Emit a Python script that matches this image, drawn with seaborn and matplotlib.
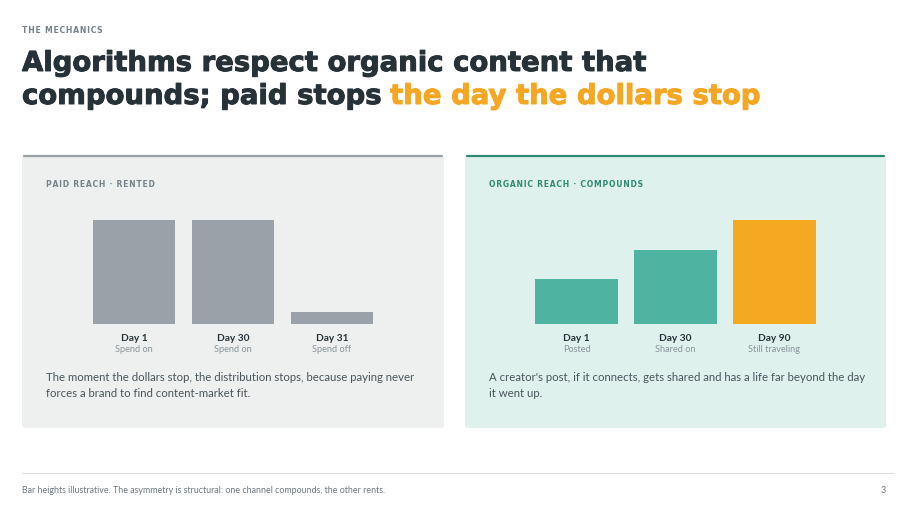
import matplotlib
matplotlib.use("Agg")
import matplotlib.pyplot as plt
import matplotlib.patheffects as pe
from matplotlib.patches import FancyBboxPatch
import seaborn as sns

# ---- data ----
paid_days = ["Day 1", "Day 30", "Day 31"]
paid_sub = ["Spend on", "Spend on", "Spend off"]
paid_vals = [100, 100, 12]

organic_days = ["Day 1", "Day 30", "Day 90"]
organic_sub = ["Posted", "Shared on", "Still traveling"]
organic_vals = [43, 71, 100]

W, H = 915, 511
sns.set_theme(style="white")
plt.rcParams["font.family"] = ["Lato", "DejaVu Sans"]

fig = plt.figure(figsize=(W / 100, H / 100), dpi=100)
fig.patch.set_facecolor("white")

def fx(x):
    return x / W

def fy(y):
    return 1 - y / H

def spaced(s):
    return "\u200a".join(s)

DARK = "#263238"
ORANGE = "#f5a623"
GRAY_T = "#76818a"
TEAL_T = "#2f8a72"
SPACED_FAM = ["DejaVu Sans"]

# header
fig.text(fx(22), fy(33), spaced("THE MECHANICS"), fontsize=5.6, fontweight="bold",
         color=GRAY_T, va="baseline", ha="left", family=SPACED_FAM)
tfont = dict(fontsize=19.8, fontweight="bold", color=DARK, va="baseline",
             ha="left", family=["DejaVu Sans"])
fig.text(fx(22), fy(71), "Algorithms respect organic content that",
         path_effects=[pe.withStroke(linewidth=0.7, foreground=DARK)], **tfont)
t2 = fig.text(fx(22), fy(104), "compounds; paid stops ",
              path_effects=[pe.withStroke(linewidth=0.7, foreground=DARK)], **tfont)
fig.canvas.draw()
bb = t2.get_window_extent()
fig.text(bb.x1 / W, fy(104), "the day the dollars stop",
         path_effects=[pe.withStroke(linewidth=0.7, foreground=ORANGE)],
         **{**tfont, "color": ORANGE})

# panels
panels = [
    dict(x0=22, x1=444, bg="#eef0ef", top="#9aa2a6", label="PAID REACH · RENTED",
         lcol=GRAY_T, days=paid_days, sub=paid_sub, vals=paid_vals,
         colors=["#9aa1a8", "#9aa1a8", "#9aa1a8"], c0=134,
         para=["The moment the dollars stop, the distribution stops, because paying never",
               "forces a brand to find content-market fit."]),
    dict(x0=465, x1=886, bg="#dff1ed", top="#2f8a72", label="ORGANIC REACH · COMPOUNDS",
         lcol=TEAL_T, days=organic_days, sub=organic_sub, vals=organic_vals,
         colors=["#4fb3a2", "#4fb3a2", "#f5a923"], c0=576.5,
         para=["A creator's post, if it connects, gets shared and has a life far beyond the day",
               "it went up."]),
]

py0, py1 = 155, 428
for p in panels:
    box = FancyBboxPatch((fx(p["x0"]), fy(py1)), fx(p["x1"] - p["x0"]),
                         (py1 - py0) / H,
                         boxstyle="round,pad=0,rounding_size=0.005",
                         transform=fig.transFigure, facecolor=p["bg"],
                         edgecolor="none", zorder=-5)
    fig.add_artist(box)
    fig.add_artist(plt.Line2D([fx(p["x0"] + 2), fx(p["x1"] - 2)], [fy(156), fy(156)],
                              color=p["top"], lw=1.6, transform=fig.transFigure,
                              zorder=-4))
    fig.text(fx(p["x0"] + 24), fy(186.5), spaced(p["label"]), fontsize=5.5,
             fontweight="bold", color=p["lcol"], va="baseline", ha="left",
             family=SPACED_FAM)

    ax_l = p["c0"] - 49.5
    ax_r = p["c0"] + 2 * 99 + 49.5
    ax = fig.add_axes([fx(ax_l), fy(324), fx(ax_r - ax_l), (324 - 220) / H])
    ax.set_zorder(2)
    sns.barplot(x=p["days"], y=p["vals"], hue=p["days"], palette=p["colors"],
                legend=False, width=0.83, ax=ax, saturation=1, edgecolor="none")
    ax.set_xlim(-0.5, 2.5)
    ax.set_ylim(0, 100)
    ax.patch.set_visible(False)
    ax.axis("off")
    for i, (d, s) in enumerate(zip(p["days"], p["sub"])):
        ax.text(i, -0.16, d, transform=ax.get_xaxis_transform(), ha="center",
                va="baseline", fontsize=7.3, fontweight="bold", color=DARK,
                clip_on=False)
        ax.text(i, -0.265, s, transform=ax.get_xaxis_transform(), ha="center",
                va="baseline", fontsize=6.6, color="#8a9399", clip_on=False)

    for k, line in enumerate(p["para"]):
        fig.text(fx(p["x0"] + 24), fy(381 + 16 * k), line, fontsize=8.2,
                 color="#4a555c", va="baseline", ha="left")

# footer
fig.add_artist(plt.Line2D([fx(22), fx(893)], [fy(473), fy(473)], color="#dcdfe1",
                          lw=0.8, transform=fig.transFigure))
fig.text(fx(22), fy(493), "Bar heights illustrative. The asymmetry is structural: one channel compounds, the other rents.",
         fontsize=6.4, color="#6f797f", va="baseline", ha="left")
fig.text(fx(886), fy(493), "3", fontsize=6.4, color="#6f797f", va="baseline", ha="right")

fig.savefig("out.png", dpi=100, facecolor="white")
